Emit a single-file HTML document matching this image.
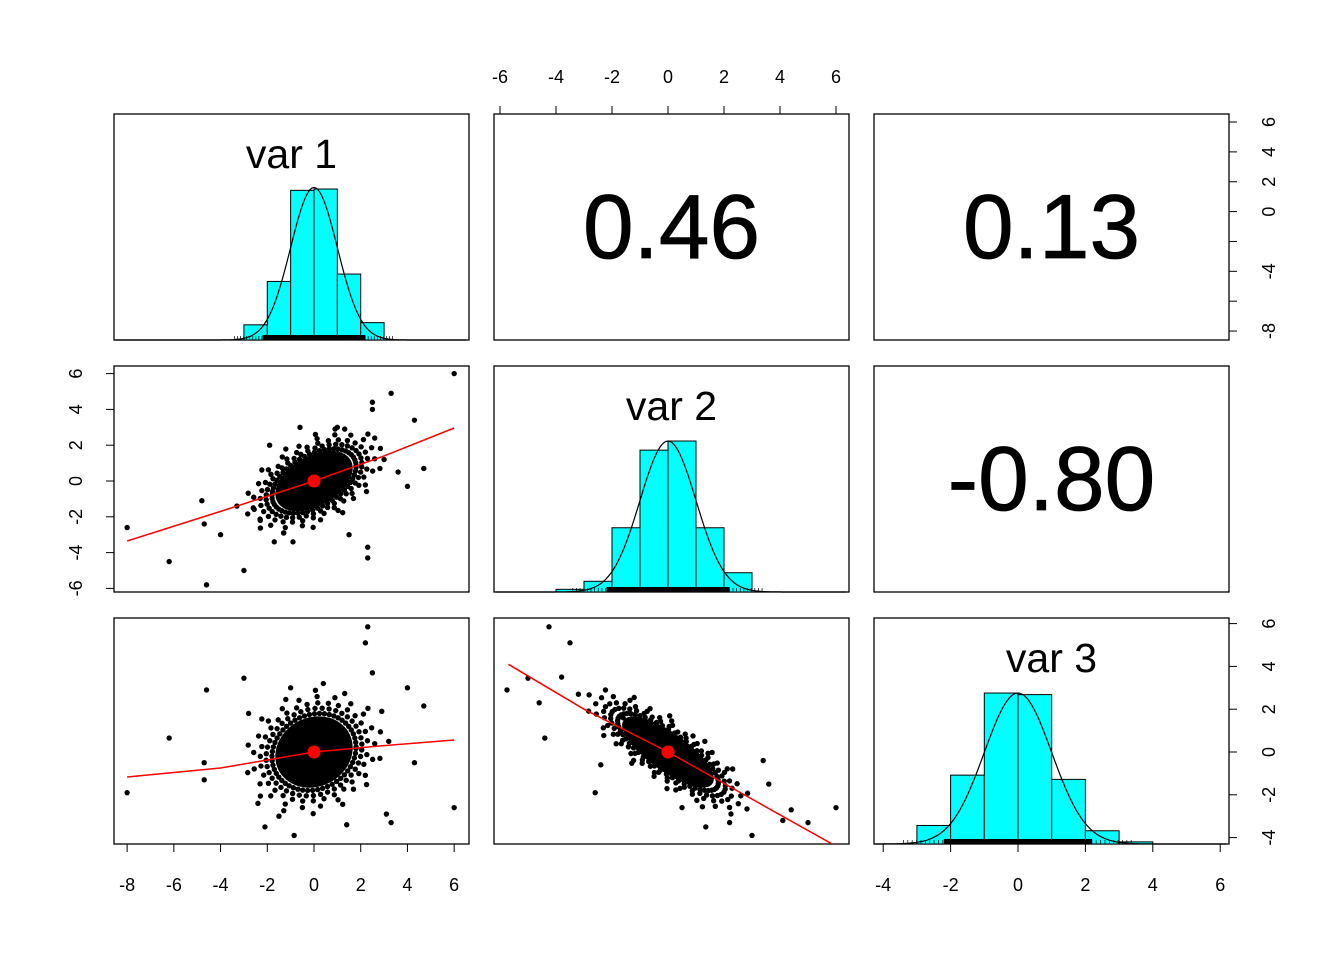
<!DOCTYPE html>
<html><head><meta charset="utf-8"><style>
body{margin:0;background:#fff}
svg text{font-family:"Liberation Sans",sans-serif}
</style></head><body>
<svg id="c" width="1344" height="960" xmlns="http://www.w3.org/2000/svg"></svg>
<script>
// ---- data ----
const varNames = ["var 1","var 2","var 3"];
const corrLabels = ["0.46","0.13","-0.80"];
const var1Ticks = [-8,-6,-4,-2,0,2,4,6];
const var1TickLabelsRight = ["-8","","-4","","0","2","4","6"];
const var2Ticks = [-6,-4,-2,0,2,4,6];
const var3Ticks = [-4,-2,0,2,4,6];
const histBreaks1 = [-3,-2,-1,0,1,2,3];
const histDens1 = [0.035,0.135,0.345,0.348,0.152,0.04];
const histBreaks2 = [-4,-3,-2,-1,0,1,2,3];
const histDens2 = [0.005,0.02,0.12,0.265,0.282,0.12,0.036];
const histBreaks3 = [-3,-2,-1,0,1,2,3,4];
const histDens3 = [0.035,0.13,0.285,0.282,0.122,0.025,0.004];
const densSd = [1.0,1.0,1.0];
const densPeak = [1.01,1.0,1.0];
// scatter outliers
const s21x = [6.0,3.3,2.5,2.5,4.3,4.7,4.0,2.3,2.3,-4.6,-6.2,-3.0,-4.8,-4.7,-4.0,-3.3,-1.7,-0.9,-0.6,1.0,-8.0,-2.3,-1.9,2.6,3.0,-2.6,1.5,3.6,-1.3,0.9];
const s21y = [6.0,4.9,4.4,4.0,3.4,0.7,-0.3,-4.3,-3.7,-5.8,-4.5,-5.0,-1.1,-2.4,-3.0,-1.4,-3.4,-3.4,3.0,3.0,-2.6,-2.2,2.0,2.4,1.2,-1.5,-3.0,0.5,-2.9,2.9];
const s31x = [2.3,2.2,2.5,-4.6,-6.2,-3.0,-8.0,6.0,-4.7,-4.7,4.0,4.7,3.3,3.1,-0.85,-2.1,4.3,-2.8,2.9,-1.5,1.4,-2.4,3.2,0.4,-1.0];
const s31y = [5.85,5.1,3.7,2.9,0.65,3.45,-1.9,-2.6,-0.5,-1.3,3.0,2.15,-3.3,-2.9,-3.9,-3.5,-0.5,1.8,1.9,-3.0,-3.4,-2.4,0.5,3.2,3.0];
const s32x = [-4.25,-3.5,-5.75,-4.4,-5.0,6.0,5.0,4.4,-2.6,1.35,3.0,3.4,-2.4,-3.8,-3.2,4.1,3.6,-4.6,2.2,-1.6,0.5];
const s32y = [5.85,5.1,2.9,0.65,3.45,-2.6,-3.3,-2.7,-1.9,-3.5,-3.9,-0.4,-0.6,3.5,2.7,-3.2,-1.5,2.3,-3.3,1.6,-2.6];
const loess21x = [-8,-4,0,3,6]; const loess21y = [-3.35,-1.7,0,1.4,2.96];
const loess31x = [-8,-4,0,3,6]; const loess31y = [-1.17,-0.75,0,0.3,0.56];
const loess32x = [-5.7,-3,0,3,5.86]; const loess32y = [4.1,2.0,0,-2.2,-4.3];
const core21 = [1.0,1.0,0.46]; // sdX, sdY, corr
const core31 = [1.0,1.0,0.13];
const core32 = [1.0,1.0,-0.80];

// ---- layout ----
const NS="http://www.w3.org/2000/svg";
const svg=document.getElementById('c');
function el(tag,attrs,parent){const e=document.createElementNS(NS,tag);for(const k in attrs)e.setAttribute(k,attrs[k]);(parent||svg).appendChild(e);return e;}
const colX=[114,494,874], rowY=[114,366,618], PW=355, PH=226;
const sx=[v=>314+v*23.36, v=>668+v*28, v=>1018+v*33.7];
const sy=[v=>211.6-v*14.93, v=>481-v*17.9, v=>752-v*21.4];

for(let r=0;r<3;r++)for(let c=0;c<3;c++){
  const f=el('rect',{x:colX[c],y:rowY[r],width:PW,height:PH,fill:'none',stroke:'#000','stroke-width':1.3});
  
  
}
const corrPos=[[0,1],[0,2],[1,2]];
corrPos.forEach((p,i)=>{
  const t=el('text',{x:colX[p[1]]+PW/2,y:rowY[p[0]]+PH/2+31,'text-anchor':'middle','font-size':91,'stroke':'#000','stroke-width':0.8});
  t.textContent=corrLabels[i];
  
  
});
const hists=[[histBreaks1,histDens1],[histBreaks2,histDens2],[histBreaks3,histDens3]];
hists.forEach((h,i)=>{
  const br=h[0],d=h[1];const bottom=rowY[i]+PH;
  const maxD=Math.max(...d);const k=0.668*PH/maxD;
  const g=el('g',{});
  d.forEach((v,j)=>{
    const x0=sx[i](br[j]),x1=sx[i](br[j+1]);
    const b=el('rect',{x:x0,y:bottom-v*k,width:x1-x0,height:v*k,fill:'#00ffff',stroke:'#000','stroke-width':1},g);
    
  });
  let pts=[];const s=densSd[i];
  for(let x=colX[i]+2;x<=colX[i]+PW-2;x+=2){
    const v=(x-sx[i](0))/(sx[i](1)-sx[i](0));
    const dd=Math.exp(-v*v/(2*s*s))*maxD*densPeak[i];
    pts.push(x+','+(bottom-dd*k).toFixed(1));
  }
  const pl=el('polyline',{points:pts.join(' '),fill:'none',stroke:'#000','stroke-width':1.2},g);
  
  const rug=el('rect',{x:sx[i](-2.2),y:bottom-5,width:sx[i](2.2)-sx[i](-2.2),height:5,fill:'#000'},g);
  
  for(let v=-3.4;v<=3.4;v+=0.13){const x=sx[i](v);el('line',{x1:x,x2:x,y1:bottom,y2:bottom-4,stroke:'#000','stroke-width':0.7},g);}
  const lab=el('text',{x:colX[i]+PW/2,y:rowY[i]+54,'text-anchor':'middle','font-size':41});
  lab.textContent=varNames[i];
});
function scatter(r,c,xs,ys,core,lx,ly){
  const X=sx[c],Y=sy[r];
  const g=el('g',{});
  const cp=el('clipPath',{id:'cl'+r+c},g);el('rect',{x:colX[c],y:rowY[r],width:PW,height:PH},cp);
  g.setAttribute('clip-path','url(#cl'+r+c+')');
  const [sdx,sdy,rho]=core;
  function pt(kk,t){return [sdx*kk*Math.cos(t), sdy*kk*(rho*Math.cos(t)+Math.sqrt(1-rho*rho)*Math.sin(t))];}
  let p=[];for(let t=0;t<Math.PI*2;t+=0.1)p.push(pt(1.55,t));
  const e=el('polygon',{points:p.map(q=>X(q[0]).toFixed(1)+','+Y(q[1]).toFixed(1)).join(' '),fill:'#000',stroke:'#000','stroke-width':5,'stroke-linejoin':'round'},g);
  
  [[1.8,0.12,0],[2.05,0.15,0.05],[2.3,0.2,0.1],[2.6,0.3,0.02],[2.9,0.45,0.2]].forEach(([kk,step,off])=>{
    for(let t=off;t<Math.PI*2;t+=step){const q=pt(kk,t);
    const d=el('circle',{cx:X(q[0]),cy:Y(q[1]),r:2.7,fill:'#000'},g);}});
  xs.forEach((v,j)=>{const d=el('circle',{cx:X(v),cy:Y(ys[j]),r:2.7,fill:'#000'},g);});
  const l=el('polyline',{points:lx.map((v,j)=>X(v).toFixed(1)+','+Y(ly[j]).toFixed(1)).join(' '),fill:'none',stroke:'#ff0000','stroke-width':1.5},g);
  
  const m=el('circle',{cx:X(0),cy:Y(0),r:6.5,fill:'#ff0000'},g);
}
scatter(1,0,s21x,s21y,core21,loess21x,loess21y);
scatter(2,0,s31x,s31y,core31,loess31x,loess31y);
scatter(2,1,s32x,s32y,core32,loess32x,loess32y);
function hAxis(ticks,f,yLine,dir,labelY,name){
  const g=el('g',{});
  el('line',{x1:f(ticks[0]),x2:f(ticks[ticks.length-1]),y1:yLine,y2:yLine,stroke:'#000'},g);
  ticks.forEach(v=>{el('line',{x1:f(v),x2:f(v),y1:yLine,y2:yLine+dir*8,stroke:'#000'},g);
    const t=el('text',{x:f(v),y:labelY,'text-anchor':'middle','font-size':18},g);t.textContent=String(v);
    });
}
function vAxis(ticks,labels,f,xLine,dir,labelX,name){
  const g=el('g',{});
  el('line',{x1:xLine,x2:xLine,y1:f(ticks[0]),y2:f(ticks[ticks.length-1]),stroke:'#000'},g);
  ticks.forEach((v,j)=>{el('line',{x1:xLine,x2:xLine+dir*8,y1:f(v),y2:f(v),stroke:'#000'},g);
    if(labels[j]){const t=el('text',{x:labelX,y:f(v),'text-anchor':'middle','font-size':18,transform:'rotate(-90 '+labelX+' '+f(v)+')'},g);t.textContent=labels[j];
    }});
}
hAxis(var1Ticks,sx[0],844,1,891,'x-axis-var1');
hAxis(var3Ticks,sx[2],844,1,891,'x-axis-var3');
hAxis(var2Ticks,sx[1],114,-1,83,'x-axis-var2-top');
vAxis(var1Ticks,var1TickLabelsRight,sy[0],1229,1,1275,'y-axis-var1-right');
vAxis(var2Ticks,var2Ticks.map(String),sy[1],114,-1,82,'y-axis-var2-left');
vAxis(var3Ticks,var3Ticks.map(String),sy[2],1229,1,1275,'y-axis-var3-right');
</script>
</body></html>
